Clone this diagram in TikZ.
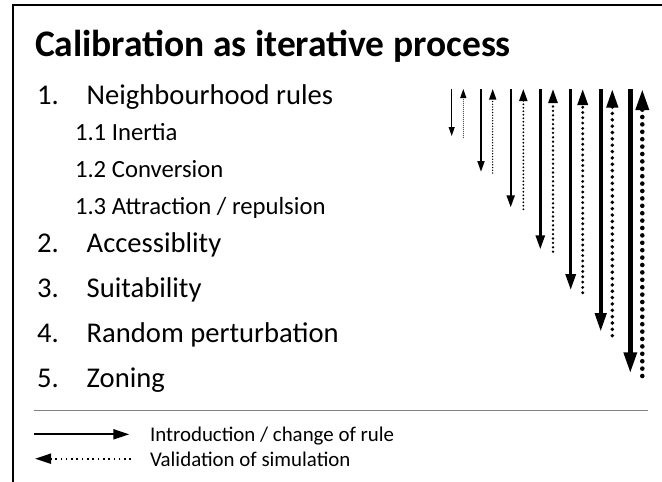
\documentclass[tikz,border=0pt]{standalone}
\usepackage{fontspec}
\setmainfont{Carlito}
\usetikzlibrary{arrows.meta}
\begin{document}
\begin{tikzpicture}[x=1pt,y=-1pt,
  txt/.style={anchor=base west,inner sep=0pt,outer sep=0pt},
  titletxt/.style={txt,font=\fontsize{37.5}{42}\selectfont\bfseries},
  itemtxt/.style={txt,font=\fontsize{28.6}{32}\selectfont},
  subtxt/.style={txt,font=\fontsize{24.7}{28}\selectfont},
  legtxt/.style={txt,font=\fontsize{20.9}{24}\selectfont},
  frameline/.style={line width=2pt,black},
  sepline/.style={line width=1pt,gray},
]
\useasboundingbox (0,0) rectangle (662,482);
% frame
\coordinate (fr1) at (13,482);
\coordinate (fr2) at (13,5.3);
\coordinate (fr3) at (662,5.3);
\draw[frameline] (fr1) -- (fr2) -- (fr3);
% title and items
\node[titletxt] (title) at (35,56) {Calibration as iterative process};
\node[itemtxt] (n1) at (37,104) {1.};
\node[itemtxt] (t1) at (86.7,104) {Neighbourhood rules};
\node[subtxt] (s1) at (75,140.5) {1.1 Inertia};
\node[subtxt] (s2) at (75,177.5) {1.2 Conversion};
\node[subtxt] (s3) at (75,214) {1.3 Attraction / repulsion};
\node[itemtxt] (n2) at (37,252) {2.};
\node[itemtxt] (t2) at (86.7,252) {Accessiblity};
\node[itemtxt] (n3) at (37,297) {3.};
\node[itemtxt] (t3) at (86.7,297) {Suitability};
\node[itemtxt] (n4) at (37,342) {4.};
\node[itemtxt] (t4) at (86.7,342) {Random perturbation};
\node[itemtxt] (n5) at (37,387) {5.};
\node[itemtxt] (t5) at (86.7,387) {Zoning};
% separator
\coordinate (sepa) at (34,410.7);
\coordinate (sepb) at (648.3,410.7);
\draw[sepline] (sepa) -- (sepb);
% legend
\coordinate (la1) at (34,434.3);
\coordinate (la2) at (129.3,434.3);
\draw[line width=2pt,-{Triangle[length=16pt,width=10pt]}] (la1) -- (la2);
\coordinate (lb1) at (131,458.7);
\coordinate (lb2) at (35,458.7);
\draw[line width=2pt,dash pattern=on 1.6pt off 3.7pt,-{Triangle[length=16pt,width=10pt]}] (lb1) -- (lb2);
\node[legtxt] (leg1) at (150,441.7) {Introduction / change of rule};
\node[legtxt] (leg2) at (150,466) {Validation of simulation};
% iterative arrows
\foreach \i/\xd/\xu/\yd/\yu/\lw/\hl/\hw in {
  1/451.7/463.3/136/137.7/1.0/9/6,
  2/481/492.7/171.7/173/1.5/10.5/7,
  3/510.7/523.3/207.3/209.3/2.0/12/8,
  4/540.3/553/249.3/251.7/2.6/14/9,
  5/570.7/582.7/290/292.7/3.2/16/10,
  6/600.7/612.3/331.7/335.7/3.9/18.5/11,
  7/630.3/642.3/373.3/376/4.6/21/12.5}{
  \coordinate (d\i a) at (\xd,89);
  \coordinate (d\i b) at (\xd,\yd);
  \coordinate (u\i a) at (\xu,\yu);
  \coordinate (u\i b) at (\xu,89);
  \draw[line width=\lw pt,-{Triangle[length=\hl pt,width=\hw pt]}] (d\i a) -- (d\i b);
  \pgfmathsetmacro{\off}{1.5*\lw+0.5}
  \draw[line width=\lw pt,line cap=round,dash pattern=on 0pt off \off pt,-{Triangle[length=\hl pt,width=\hw pt]}] (u\i a) -- (u\i b);
}
\end{tikzpicture}
\end{document}
